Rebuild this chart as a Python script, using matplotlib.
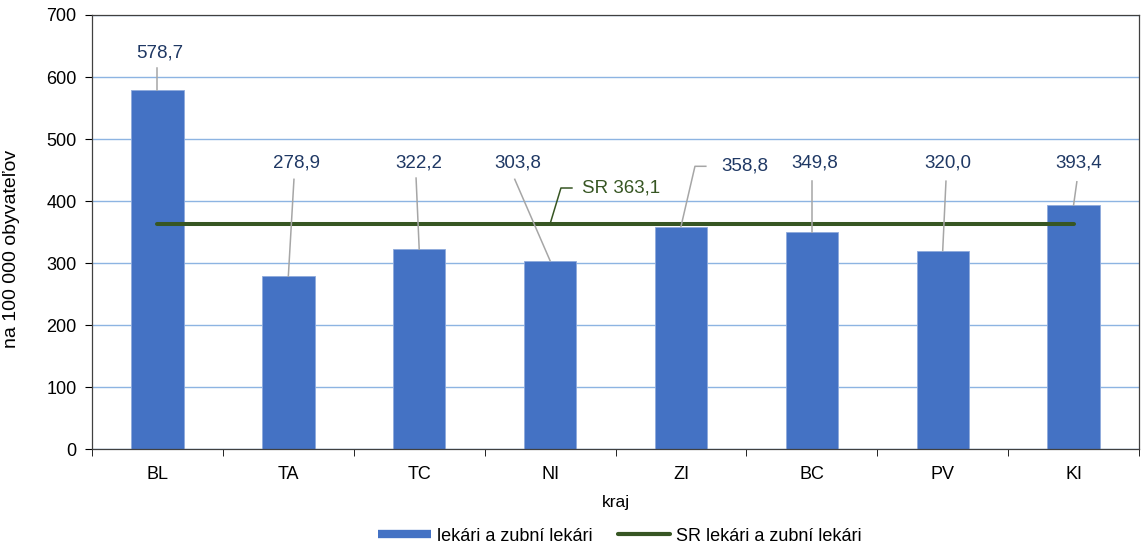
import matplotlib
matplotlib.use('Agg')
import matplotlib.pyplot as plt
from matplotlib.lines import Line2D
import numpy as np

plt.rcParams['font.family'] = ['Liberation Sans', 'DejaVu Sans']
plt.rcParams['font.size'] = 12.5

# data
kraje = ["BL", "TA", "TC", "NI", "ZI", "BC", "PV", "KI"]
lekari = [578.7, 278.9, 322.2, 303.8, 358.8, 349.8, 320.0, 393.4]
sr_hodnota = 363.1

# label placement (layout only): text x/y and leader end point
lab_x = [0.02, 1.06, 2.0, 2.755, 4.306, 5.024, 6.04, 7.04]
lab_y = [639, 461, 461, 461, 456, 461, 461, 461]
lead_end = [(0.0, 615), (1.043, 435), (1.976, 437), (2.73, 435),
            (4.107, 456), (5.0, 432), (6.025, 432), (7.025, 431)]

modra = "#4472C4"
zelena = "#375623"
popis = "#1F3864"
seda = "#A6A6A6"

fig = plt.figure(figsize=(11.46, 5.47), dpi=100)
ax = fig.add_axes([0.0803, 0.179, 0.9136, 0.7936])

x = np.arange(len(kraje))
ax.bar(x, lekari, width=0.4, color=modra, edgecolor="#8FAADC", linewidth=0.6, zorder=2)
ax.plot([x[0], x[-1]], [sr_hodnota, sr_hodnota], color=zelena, lw=2.9,
        solid_capstyle='round', zorder=3)

# data labels with leader lines
for i, v in enumerate(lekari):
    ex, ey = lead_end[i]
    txt = f"{v:.1f}".replace(".", ",")
    if kraje[i] == "ZI":
        ax.plot([i, ex, 4.19], [v, ey, ey], color=seda, lw=1.1, zorder=4)
        ax.text(lab_x[i], lab_y[i], txt, ha='left', va='center', color=popis, fontsize=13.5)
    else:
        ax.plot([i, ex], [v, ey], color=seda, lw=1.1, zorder=4)
        ax.text(lab_x[i], lab_y[i], txt, ha='center', va='center', color=popis, fontsize=13.5)

# SR label
ax.plot([3.0, 3.083, 3.167], [sr_hodnota, 421, 421], color=zelena, lw=1.1, zorder=4)
ax.text(3.244, 421, "SR " + f"{sr_hodnota:.1f}".replace(".", ","), ha='left', va='center',
        color=zelena, fontsize=13.5)

ax.set_xlim(-0.5, len(kraje) - 0.5)
ax.set_ylim(0, 700)
ax.set_yticks(np.arange(0, 701, 100))
ax.grid(axis='y', color="#8DB4E2", linewidth=1.0, zorder=0)
ax.set_axisbelow(True)
ax.set_xticks(x)
ax.set_xticklabels(kraje)
ax.set_xticks(np.arange(-0.5, len(kraje), 1), minor=True)
ax.tick_params(axis='x', which='major', length=0, pad=12, labelsize=13)
ax.tick_params(axis='x', which='minor', length=5, direction='out')
ax.tick_params(axis='y', length=5, direction='out', pad=6, labelsize=13)
for s in ax.spines.values():
    s.set_color("#404040")
    s.set_linewidth(0.9)

ax.set_xlabel("kraj", labelpad=9, fontsize=12.5)
ax.set_ylabel("na 100 000 obyvateľov", fontsize=14)
ax.yaxis.set_label_coords(-0.069, 0.46)

handles = [Line2D([0], [0], color=modra, lw=6, solid_capstyle='butt'),
           Line2D([0], [0], color=zelena, lw=3, solid_capstyle='round')]
fig.legend(handles, ["lekári a zubní lekári", "SR lekári a zubní lekári"],
           loc='center', bbox_to_anchor=(0.541, 0.02), ncol=2, frameon=False,
           handlelength=2.9, handletextpad=0.33, columnspacing=1.4, fontsize=13)

fig.savefig("out.png", dpi=100)
